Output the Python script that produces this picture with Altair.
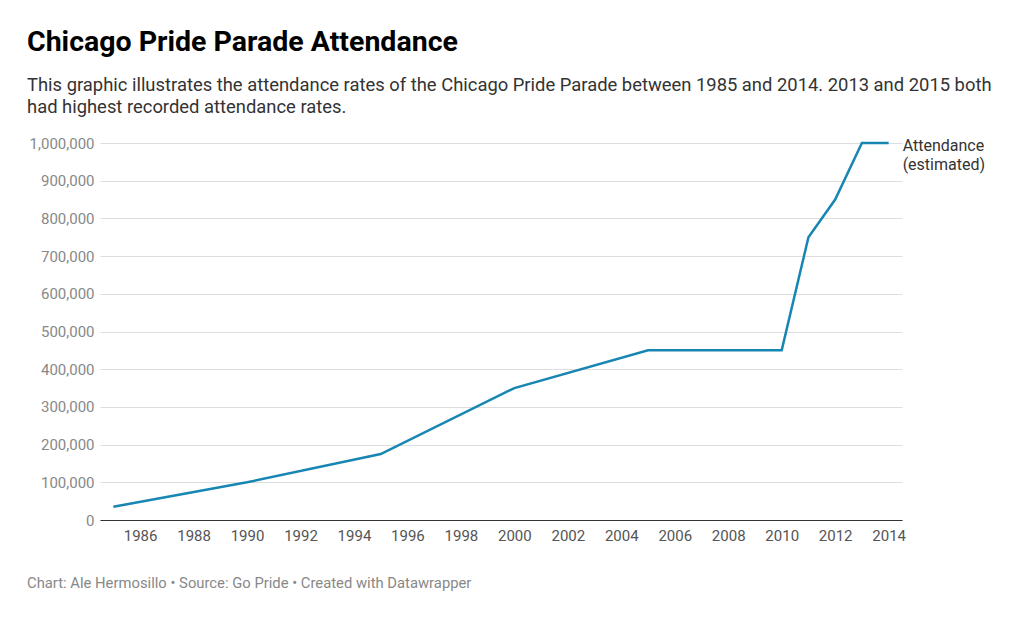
import altair as alt
import pandas as pd

years = [1985, 1990, 1995, 2000, 2005, 2010, 2011, 2012, 2013, 2014]
attendance = [35000, 100000, 175000, 350000, 450000, 450000, 750000, 850000, 1000000, 1000000]
series_label = "Attendance\n(estimated)"
x_ticks = list(range(1986, 2015, 2))
y_ticks = list(range(0, 1000001, 100000))

df = pd.DataFrame({"year": years, "attendance": attendance})
label_df = pd.DataFrame({"year": [years[-1]], "attendance": [attendance[-1]], "label": [series_label]})
footer_df = pd.DataFrame({"t": ["Chart: Ale Hermosillo • Source: Go Pride • Created with Datawrapper"]})

FONT = "Roboto"
x_scale = alt.Scale(domain=[1984.5, 2014.5], nice=False, zero=False)
y_scale = alt.Scale(domain=[0, 1000000], nice=False)

x_axis = alt.Axis(
    values=x_ticks, format="d", title=None, grid=False, ticks=False,
    domainColor="#333333", domainWidth=1, labelColor="#555555",
    labelFontSize=15, labelFont=FONT, labelPadding=8, labelFlush=False,
)
y_axis = alt.Axis(
    values=y_ticks, format=",d", title=None, domain=False, ticks=False,
    gridColor="#dddddd", gridWidth=1, labelColor="#888888",
    labelFontSize=15, labelFont=FONT, labelPadding=6,
)
x_enc = alt.X("year:Q", scale=x_scale, axis=x_axis)
y_enc = alt.Y("attendance:Q", scale=y_scale, axis=y_axis)

line = alt.Chart(df).mark_line(color="#1786b3", strokeWidth=2.5).encode(x=x_enc, y=y_enc)

label = alt.Chart(label_df).mark_text(
    align="left", baseline="top", dx=14, dy=-5, fontSize=16, font=FONT,
    color="#333333", lineBreak="\n", lineHeight=19,
).encode(x=x_enc, y=y_enc, text="label:N")

footer = alt.Chart(footer_df).mark_text(
    align="left", baseline="alphabetic", fontSize=14.8, font=FONT, color="#888888",
).encode(x=alt.value(-73), y=alt.value(445), text="t:N")

chart = alt.layer(line, label, footer).properties(
    width=802,
    height=377,
    background="white",
    autosize=alt.AutoSizeParams(type="none"),
    padding={"left": 92, "top": 135, "right": 113, "bottom": 97},
    title=alt.TitleParams(
        text="Chicago Pride Parade Attendance",
        subtitle=[
            "This graphic illustrates the attendance rates of the Chicago Pride Parade between 1985 and 2014. 2013 and 2015 both",
            "had highest recorded attendance rates.",
        ],
        anchor="start",
        frame="group",
        dx=-73,
        font=FONT,
        fontSize=28.5,
        fontWeight="bold",
        color="#000000",
        subtitleFont=FONT,
        subtitleFontSize=18.4,
        subtitleColor="#333333",
        subtitleLineHeight=22,
        subtitlePadding=19,
        offset=20,
    ),
).configure_view(strokeWidth=0, stroke="transparent")

chart.save("out.html", embed_options={"renderer": "svg", "actions": False})
